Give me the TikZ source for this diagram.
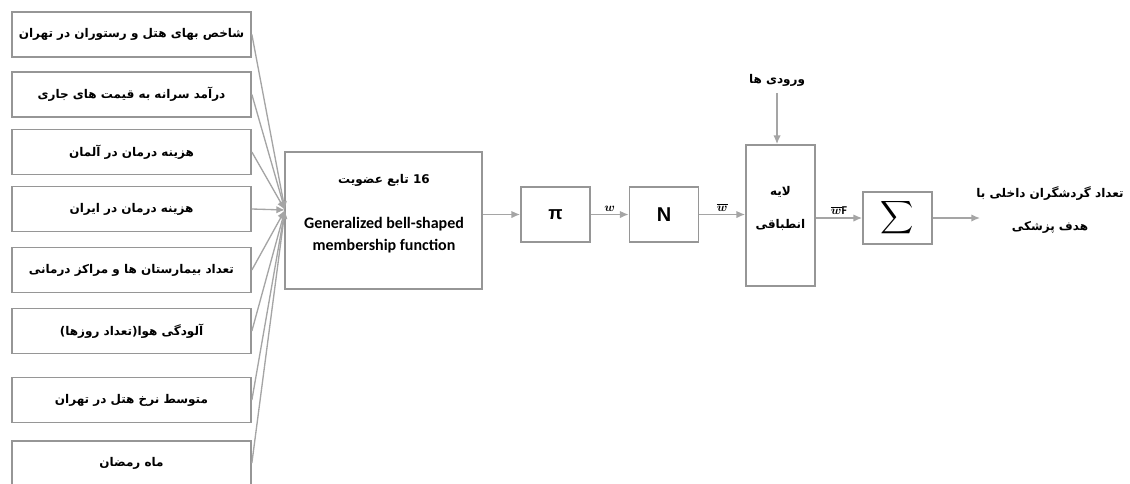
\documentclass[tikz,border=0pt]{standalone}
\usepackage[dvipsnames]{xcolor}
\usepackage{amsmath}
\usepackage{fontspec}
\setmainfont{Carlito}
\newfontfamily\arabicfont[Script=Arabic]{DejaVu Sans}
\newfontfamily\symfont{Liberation Sans}
\TeXXeTstate=1
\usetikzlibrary{arrows.meta}
\newcommand\pxu{0.75pt}
\newcommand\fa[1]{{\arabicfont\bfseries\beginR#1\endR}}
\definecolor{boxgray}{RGB}{150,150,150}
\definecolor{wiregray}{RGB}{165,165,165}
\tikzset{
  box/.style = {draw=boxgray, line width=1.3pt, inner sep=0pt, align=center,
    fill=white},
  inbox/.style = {box, minimum width=239*\pxu, minimum height=45*\pxu,
    font=\fontsize{9}{11}\selectfont},% متغیر ورودی
  opbox/.style = {box, minimum width=69*\pxu, minimum height=55*\pxu},% pi, N
  txt/.style = {inner sep=1pt, align=center, font=\fontsize{9}{11}\selectfont},
  wlabel/.style = {above, inner sep=2pt, font=\fontsize{9}{9}\selectfont},
  wire/.style = {draw=wiregray, line width=1pt},
  flow/.style = {wire, -{Latex[length=6.5pt,width=5.5pt]}}
}
\begin{document}
\begin{tikzpicture}[x=\pxu, y=-\pxu]
  \useasboundingbox (0,0) rectangle (1130,483);
  % ورودی ها
  \node [inbox] (in1) at (131.5,34.5) {\fa{شاخص بهای هتل و رستوران در تهران}};
  \node [inbox] (in2) at (131.5,94.5) {\fa{درآمد سرانه به قیمت های جاری}};
  \node [inbox] (in3) at (131.5,152) {\fa{هزینه درمان در آلمان}};
  \node [inbox] (in4) at (131.5,209) {\fa{هزینه درمان در ایران}};
  \node [inbox] (in5) at (131.5,270) {\fa{تعداد بیمارستان ها و مراکز درمانی}};
  \node [inbox] (in6) at (131.5,331) {\fa{آلودگی هوا(تعداد روزها)}};
  \node [inbox] (in7) at (131.5,400) {\fa{متوسط نرخ هتل در تهران}};
  \node [inbox, minimum height=44*\pxu] (in8) at (131.5,463) {\fa{ماه رمضان}};
  % توابع عضویت
  \node [box, minimum width=197*\pxu, minimum height=137*\pxu] (mf) at (383.5,220.5) {};
  \node [txt, font=\fontsize{12}{16}\selectfont\bfseries] (mftxt) at (384,213.5)
    {{\fontsize{9}{11}\selectfont\fa{\beginL16\endL{} تابع عضویت}}\\[18pt]
     Generalized bell-shaped\\membership function};
  \coordinate (conv) at (285,210);
  \foreach \i in {1,...,8}
    \draw [flow] (in\i.east) -- (conv);
  % لایه ها
  \node [opbox] (pi) at (555.5,214.5) {\symfont\bfseries\fontsize{14}{14}\selectfont π};
  \node [opbox] (nrm) at (664,214.5) {\symfont\bfseries\fontsize{15}{15}\selectfont N};
  \node [box, minimum width=69*\pxu, minimum height=141*\pxu] (layer) at (780.5,215.5) {};
  \node [txt] (layertxt) at (780.5,208.5) {\fa{لایه}\\[14pt]\fa{انطباقی}};
  \node [txt] (feed) at (777,80) {\fa{ورودی ها}};
  \node [box, minimum width=69*\pxu, minimum height=52*\pxu] (sum) at (897.5,218)
    {\fontsize{16}{16}\selectfont$\displaystyle\sum$};
  \node [txt] (out) at (1050,210) {\fa{تعداد گردشگران داخلی با}\\[14pt]\fa{هدف پزشکی}};
  \coordinate (outpt) at (980,218);
  % اتصالات
  \draw [flow] (mf.east |- pi) -- (pi);
  \draw [flow] (pi) -- node [wlabel] {$\boldsymbol{w}$} (nrm);
  \draw [flow] (nrm) -- node [wlabel] {$\boldsymbol{\overline{w}}$} (nrm -| layer.west);
  \draw [flow] ([yshift=-4pt]feed.south) -- (feed.south |- layer.north);
  \draw [flow] (layer.east |- sum) -- node [wlabel] {$\boldsymbol{\overline{w}}$\textbf{F}} (sum);
  \draw [flow] (sum) -- (outpt);
\end{tikzpicture}
\end{document}
